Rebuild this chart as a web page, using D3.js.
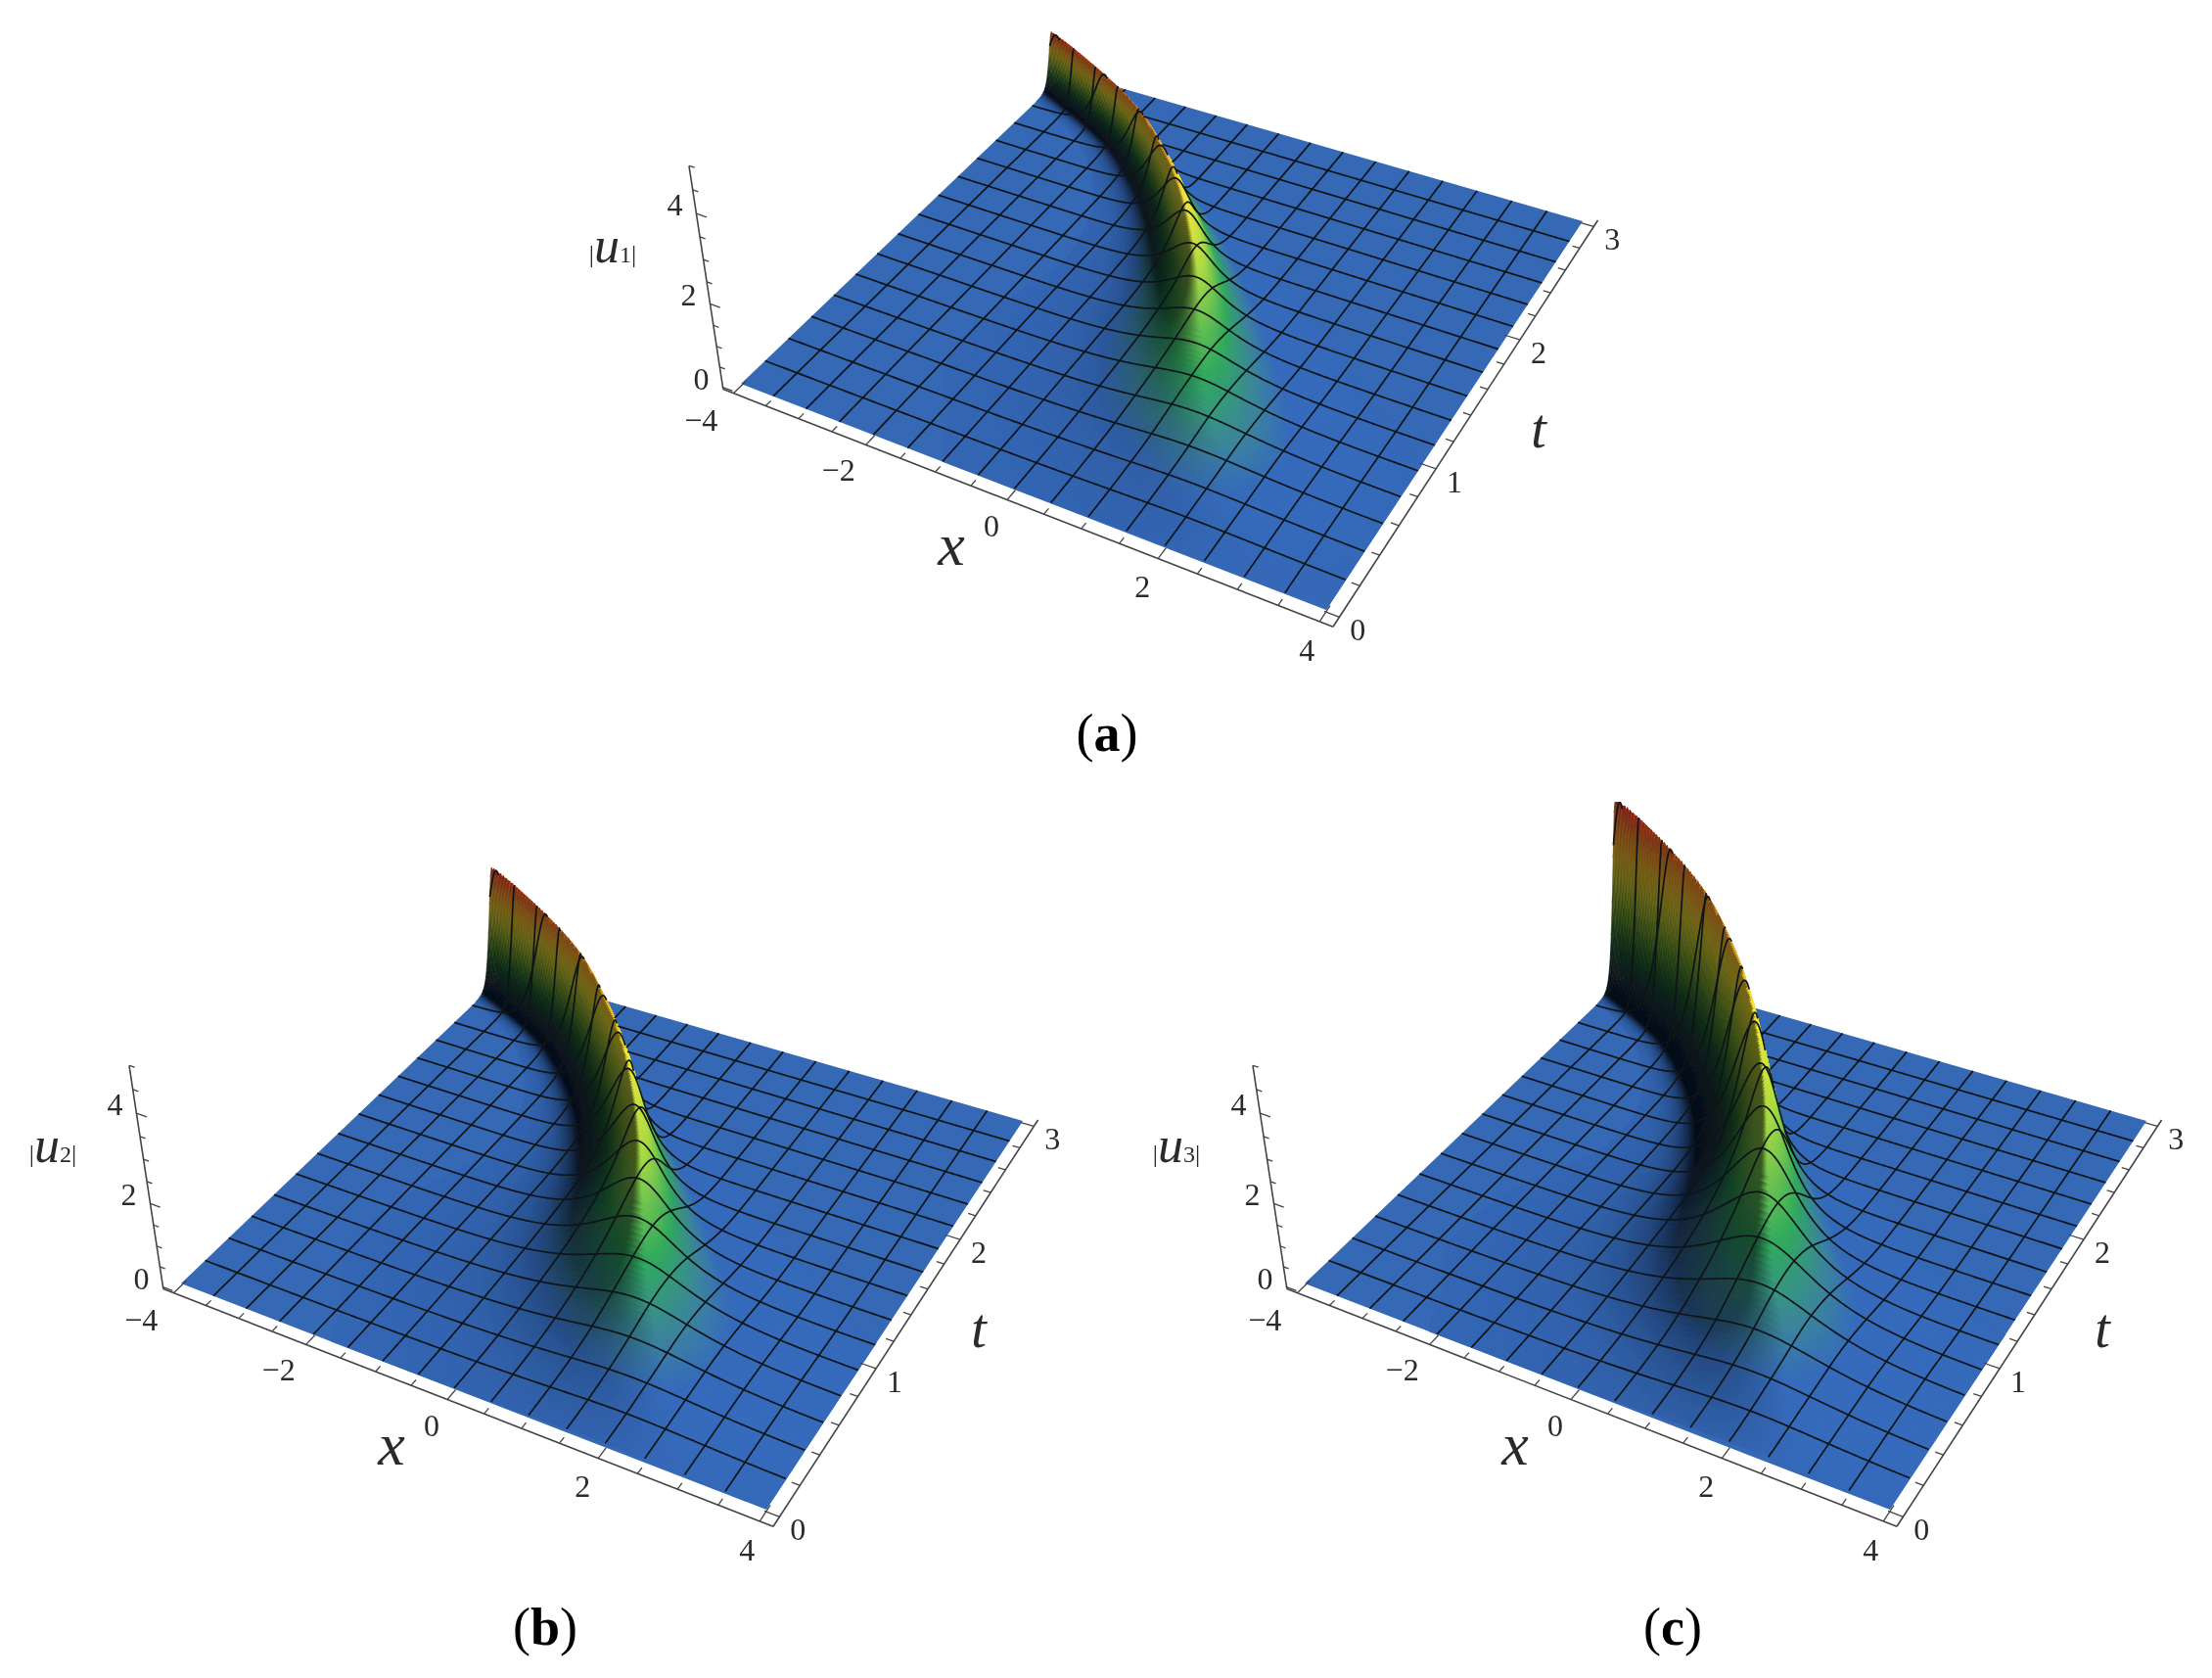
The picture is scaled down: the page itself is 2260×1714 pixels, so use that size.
<!DOCTYPE html>
<html><head><meta charset="utf-8">
<script src="https://cdnjs.cloudflare.com/ajax/libs/d3/7.8.5/d3.min.js"></script>
<style>html,body{margin:0;background:#fff}svg{display:block}text{font-family:"Liberation Serif","Times New Roman",serif;fill:#2a2a2a}</style>
</head><body><div id="c"></div>
<script>
// values, per row of t
const tRows=[0,.25,.5,.75,1,1.25,1.5,1.75,2,2.25,2.5,2.75,3];
const ridgeX=[2.15,1.9,1.6,1.3,.97,.62,.26,-.18,-.7,-1.35,-2.2,-3.5,-5.0];
const ridgeW=[1.1,.95,.85,.72,.6,.47,.36,.28,.22,.18,.15,.14,.14];
const heightA=[.05,.09,.16,.3,.42,.55,.7,.87,1.0,1.12,1.25,1.38,1.48];
const heightB=[.1,.18,.34,.62,.92,1.25,1.55,1.8,2.05,2.3,2.6,2.9,3.1];
const heightC=[.14,.26,.5,.95,1.42,1.9,2.35,2.8,3.2,3.6,4.0,4.45,4.7];
const panelNames=["(a)","(b)","(c)"];
const yLabels=["1","2","3"];
const xTicks=[-4,-2,0,2,4], tTicks=[0,1,2,3], zTicks=[0,2,4];
const xMinor=d3.range(-4,4.01,.5), tMinor=d3.range(0,3.01,.2), zMinor=d3.range(0,5.01,.5);

const W=2260,H=1714;
const svg=d3.select("#c").append("svg").attr("width",W).attr("height",H).attr("viewBox",[0,0,W,H]);
svg.append("defs").append("filter").attr("id","soft")
   .attr("filterUnits","userSpaceOnUse").attr("x",-700).attr("y",-100).attr("width",3000).attr("height",1000)
   .append("feGaussianBlur").attr("stdDeviation",.55);

const C={nl:[757,392],n:[1355,623],fr:[1617,226],fl:[1090,74]};
const VP=[1073,2586];
function homography(p00,p10,p11,p01){
  const [x0,y0]=p00,[x1,y1]=p10,[x2,y2]=p11,[x3,y3]=p01;
  const dx1=x1-x2,dx2=x3-x2,sx=x0-x1+x2-x3,dy1=y1-y2,dy2=y3-y2,sy=y0-y1+y2-y3;
  const d=dx1*dy2-dx2*dy1,g=(sx*dy2-dx2*sy)/d,h=(dx1*sy-sx*dy1)/d;
  return [[x1-x0+g*x1,x3-x0+h*x3,x0],[y1-y0+g*y1,y3-y0+h*y3,y0],[g,h,1]];
}
const Hm=homography(C.nl,C.n,C.fr,C.fl);
const xn=d3.scaleLinear().domain([-4,4]).range([0,1]), tn=d3.scaleLinear().domain([0,3]).range([0,1]);
const zc=(()=>{const s=-0.0187;return [s*VP[0],s*VP[1],s];})();
function project(x,t,z){
  const u=xn(x),v=tn(t);
  const w=Hm[2][0]*u+Hm[2][1]*v+1+zc[2]*z;
  return [(Hm[0][0]*u+Hm[0][1]*v+Hm[0][2]+zc[0]*z)/w,(Hm[1][0]*u+Hm[1][1]*v+Hm[1][2]+zc[1]*z)/w];
}
function inv3(m){const [[a,b,c],[d,e,f],[g,h,i]]=m;const A=e*i-f*h,B=c*h-b*i,Cc=b*f-c*e,D=f*g-d*i,E=a*i-c*g,F=c*d-a*f,G=d*h-e*g,Hh=b*g-a*h,I=a*e-b*d,det=a*A+b*D+c*G;return [[A,B,Cc],[D,E,F],[G,Hh,I]].map(r=>r.map(v=>v/det));}
const Hi=inv3(Hm);
function ground(sx,sy){const w=Hi[2][0]*sx+Hi[2][1]*sy+Hi[2][2];return [xn.invert((Hi[0][0]*sx+Hi[0][1]*sy+Hi[0][2])/w),tn.invert((Hi[1][0]*sx+Hi[1][1]*sy+Hi[1][2])/w)];}

function spline(xs,ys){return t=>{
  const s=(xs[xs.length-1]-xs[0])/(xs.length-1);let i=Math.min(xs.length-2,Math.max(0,Math.floor((t-xs[0])/s)));
  const u=(t-xs[i])/s,p0=ys[Math.max(0,i-1)],p1=ys[i],p2=ys[i+1],p3=ys[Math.min(ys.length-1,i+2)];
  return .5*((2*p1)+(-p0+p2)*u+(2*p0-5*p1+4*p2-p3)*u*u+(-p0+3*p1-3*p2+p3)*u*u*u);};}

const colorOf=d3.scaleLinear().domain([0,.07,.14,.28,.5,.68,.85,1]).range(["#3467b5","#3467b5","#3a8096","#2fa558","#a6d63e","#f0e03a","#e0882a","#c82028"]).clamp(true);
const L=(()=>{const v=[.7,.3,.6],n=Math.hypot(...v);return v.map(d=>d/n);})();
const line=d3.line().defined(d=>d.vis).x(d=>d.p[0]).y(d=>d.p[1]);
const polyPath=d3.line();

function drawPanel(g,heights,sub,label,capPos){
  const fx=spline(tRows,ridgeX),fw=spline(tRows,ridgeW),fh=spline(tRows,heights);
  const f=(x,t)=>fh(t)/Math.cosh((x-fx(t))/fw(t));
  const zmax=d3.max(heights)*.95;
  const nx=280;
  const xs=d3.range(nx+1).map(i=>-4+8*i/nx);
  const ts=[...d3.range(3,1.2,-.01),...d3.range(1.2,-.001,-.03),0];
  const nt=ts.length-1;
  const Z=ts.map(t=>xs.map(x=>f(x,t)));
  g.append("path").attr("d",polyPath([[-4,0],[4,0],[4,3],[-4,3]].map(d=>project(d[0],d[1],0)))+"Z").attr("fill","#3467b5");
  const quads=g.append("g");
  for(let j=0;j<nt;j++)for(let i=0;i<nx;i++){
    const zz=[Z[j][i],Z[j][i+1],Z[j+1][i+1],Z[j+1][i]],m=d3.mean(zz);
    if(d3.max(zz)<.006)continue;
    const dt=ts[j]-ts[j+1];
    if(dt<=0)continue;
    const dzx=((zz[1]+zz[2])-(zz[0]+zz[3]))/2/(8/nx)*.42/5*8;
    const dzt=((zz[0]+zz[1])-(zz[2]+zz[3]))/2/dt*.42/5*3;
    const nl=Math.hypot(dzx,dzt,1),n=[-dzx/nl,-dzt/nl,1/nl];
    const zf=m/zmax;
    const floorT=ts[j]<1.6?(1.6-ts[j])/1.6*.55:0;
    const b=Math.max(.1+.52*zf+floorT,Math.min(1.04,(n[0]*L[0]+n[1]*L[1]+n[2]*L[2])/L[2]));
    const col=d3.rgb(colorOf(zf));
    const c=d3.rgb(Math.min(255,col.r*b),Math.min(255,col.g*b),Math.min(255,col.b*b)).formatHex();
    const pts=[[xs[i],ts[j],zz[0]],[xs[i+1],ts[j],zz[1]],[xs[i+1],ts[j+1],zz[2]],[xs[i],ts[j+1],zz[3]]].map(d=>project(...d));
    quads.append("path").attr("d",polyPath(pts)+"Z").attr("fill",c).attr("stroke",c).attr("stroke-width",.6);
  }
  const visible=(x,t,z)=>{
    const G=project(x,t,0),P=project(x,t,z);
    const dP=Math.hypot(P[0]-VP[0],P[1]-VP[1]),d0=Math.hypot(G[0]-VP[0],G[1]-VP[1]);
    const ux=(G[0]-VP[0])/d0,uy=(G[1]-VP[1])/d0;
    for(let s=2;s<300;s+=2){
      const q=[G[0]-ux*s,G[1]-uy*s],[qx,qt]=ground(q[0],q[1]);
      if(qx<-4||qx>4||qt<0||qt>3)break;
      const zq=f(qx,qt);if(zq<.02)continue;
      const R=project(qx,qt,zq);
      if(Math.hypot(R[0]-VP[0],R[1]-VP[1])>dP+1.2)return false;
    }
    return true;
  };
  const meshX=d3.range(0,17).map(i=>-4+i*.5), meshT=d3.range(0,17).map(i=>i*3/16);
  const lines=g.append("g").attr("fill","none").attr("stroke","#101418").attr("stroke-width",1.7).attr("stroke-linejoin","round");
  meshX.slice(1,-1).forEach(x=>{
    const pts=d3.range(0,401).map(i=>{const t=3*i/400,z=f(x,t);return{p:project(x,t,z),vis:visible(x,t,z)};});
    lines.append("path").attr("d",line(pts));
  });
  meshT.slice(1,-1).forEach(t=>{
    const pts=d3.range(0,401).map(i=>{const x=-4+8*i/400,z=f(x,t);return{p:project(x,t,z),vis:visible(x,t,z)};});
    lines.append("path").attr("d",line(pts));
  });
  const ax=g.append("g").attr("fill","none").attr("stroke","#444");
  const bx0=-4.16,bx1=4.16,bt0=-.06,bt1=3.06,bz=-.05;
  const seg=(a,b,o)=>ax.append("path").attr("d",polyPath([project(...a),project(...b)])).attr("stroke-width",o||1.6);
  seg([bx0,bt0,bz],[bx1,bt0,bz]);
  seg([bx1,bt0,bz],[bx1,bt1,bz]);
  seg([bx0,bt0,bz],[bx0,bt0,5]);
  xMinor.forEach(x=>seg([x,bt0,bz],[x,bt0+(Math.abs(x)===4?.1:x%2===0?.07:.04),bz],1.3));
  tMinor.forEach(t=>{const r=Math.abs(t-Math.round(t))<.01;seg([bx1,t,bz],[bx1-(t<.01||t>2.99?.18:r?.2:.1),t,bz],1.3);});
  zMinor.forEach(z=>seg([bx0,bt0,z],[bx0+(z%2===0?.15:.08),bt0,z],1.3));
  const txt=(s,p,size)=>g.append("text").attr("x",p[0]).attr("y",p[1]).attr("text-anchor","middle").attr("font-size",size||32).text(s);
  const lab=d=>String(d).replace("-","\u2212");
  const xOff={"-4":[-33,38],"-2":[-28,37],"0":[-16,37],"2":[-16,39],"4":[-13,40]};
  xTicks.forEach(x=>{const p=project(x,bt0,bz),o=xOff[x];txt(lab(x),[p[0]+o[0],p[1]+o[1]]);});
  tTicks.forEach(t=>{const p=project(bx1,t,bz);txt(lab(t),[p[0]+19,p[1]+24]);});
  zTicks.forEach(z=>{const p=project(bx0,bt0,z);txt(lab(z),[p[0]-22,p[1]+2]);});
  g.append("text").attr("x",972).attr("y",577).attr("text-anchor","middle").attr("font-size",62).attr("font-style","italic").text("x");
  g.append("text").attr("x",1572).attr("y",457).attr("text-anchor","middle").attr("font-size",56).attr("font-style","italic").text("t");
  const ut=g.append("text").attr("x",626).attr("y",268).attr("text-anchor","middle");
  ut.append("tspan").attr("font-size",26).text("|");
  ut.append("tspan").attr("font-size",52).attr("font-style","italic").text("u");
  ut.append("tspan").attr("font-size",24).text(sub);
  ut.append("tspan").attr("font-size",26).text("|");
  const cap=svg.append("text").attr("x",capPos[0]).attr("y",capPos[1]).attr("text-anchor","middle").attr("font-size",54).style("fill","#000");
  cap.append("tspan").text("(");
  cap.append("tspan").attr("font-weight","bold").text(label.slice(1,2));
  cap.append("tspan").text(")");
}
const panels=[
 {dx:0,dy:0,h:heightA,cap:[1131,767]},
 {dx:-572,dy:919,h:heightB,cap:[557,1680]},
 {dx:576,dy:919,h:heightC,cap:[1709,1680]}];
panels.forEach((p,i)=>{
  const g=svg.append("g").attr("transform",`translate(${p.dx},${p.dy})`).attr("filter","url(#soft)");
  drawPanel(g,p.h,yLabels[i],panelNames[i],p.cap);
});
</script></body></html>
